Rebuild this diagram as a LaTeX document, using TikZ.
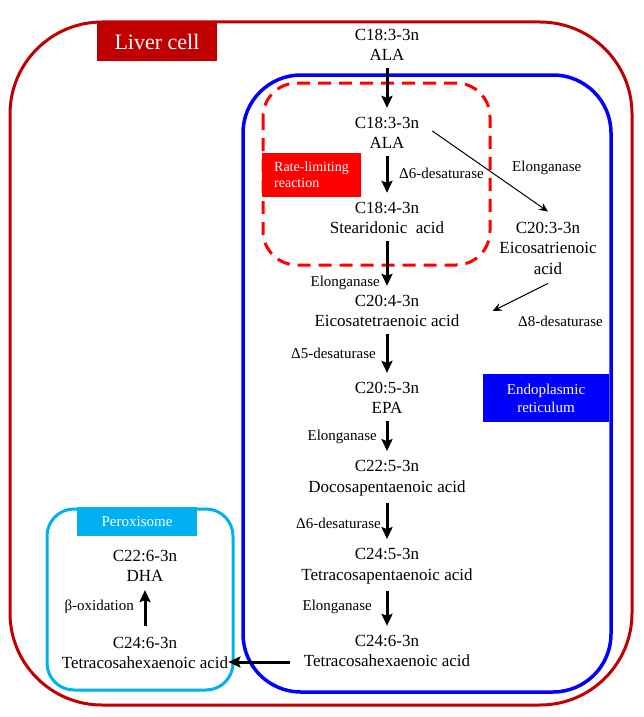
\documentclass[tikz,border=0pt]{standalone}
\usepackage{fontspec}
\setmainfont{Liberation Serif}
\usetikzlibrary{arrows.meta,calc}
\definecolor{liverred}{RGB}{192,0,0}
\definecolor{erblue}{RGB}{0,0,255}
\definecolor{ratered}{RGB}{255,0,0}
\definecolor{peroxblue}{RGB}{0,176,240}
\begin{document}
\begin{tikzpicture}[x=1pt,y=-1pt,
  cmp/.style={align=center, inner sep=0pt, font=\fontsize{17}{20.5}\selectfont},
  lbl/.style={inner sep=0pt, font=\fontsize{15}{18}\selectfont},
  tagbox/.style={inner sep=0pt, text=white},
  bigarrow/.style={line width=3pt, -{Stealth[length=12pt,width=11pt,inset=2pt]}, shorten <=7pt, shorten >=9pt},
  thinarrow/.style={line width=1pt, -{Stealth[length=9pt,width=8pt]}},
]
\useasboundingbox (0,0) rectangle (644,717);
% frames
\draw[liverred, line width=3pt, rounded corners=92pt] (10,22) rectangle (632,705);
\draw[erblue, line width=3.5pt, rounded corners=58pt] (243,75) rectangle (611,692);
\draw[ratered, line width=3pt, dash pattern=on 13pt off 8pt, rounded corners=34pt] (263,83) rectangle (490,265);
\draw[peroxblue, line width=3pt, rounded corners=27pt] (47,509) rectangle (233,690);
% tags
\node[tagbox, fill=liverred, minimum width=120pt, minimum height=38pt, font=\fontsize{22}{26}\selectfont] (livercell) at (157,42) {Liver cell};
\node[tagbox, fill=erblue, minimum width=126pt, minimum height=48pt, align=center, font=\fontsize{15}{18}\selectfont] (er) at (546,398) {Endoplasmic\\reticulum};
\node[tagbox, fill=peroxblue, minimum width=120pt, minimum height=29pt, font=\fontsize{15}{18}\selectfont] (perox) at (137,521.5) {Peroxisome};
\node[tagbox, fill=ratered, minimum width=99pt, minimum height=44pt, align=left, font=\fontsize{14}{16}\selectfont] (rate) at (311.5,175) {Rate-limiting\\reaction};
% compounds
\node[cmp] (ala0) at (387,45) {C18:3-3n\\ALA};
\node[cmp] (ala) at (387,133) {C18:3-3n\\ALA};
\node[cmp] (sda) at (387,218) {C18:4-3n\\Stearidonic\ \ acid};
\node[cmp] (c203) at (548,248) {C20:3-3n\\Eicosatrienoic\\acid};
\node[cmp] (eta) at (387,311) {C20:4-3n\\Eicosatetraenoic acid};
\node[cmp] (epa) at (387,398) {C20:5-3n\\EPA};
\node[cmp] (dpa) at (387,478) {C22:5-3n\\Docosapentaenoic acid};
\node[cmp] (tpa) at (387,566) {C24:5-3n\\Tetracosapentaenoic acid};
\node[cmp] (tha) at (387,651) {C24:6-3n\\Tetracosahexaenoic acid};
\node[cmp] (dha) at (145,566) {C22:6-3n\\DHA};
\node[cmp] (thap) at (145,653) {C24:6-3n\\Tetracosahexaenoic acid};
% enzyme labels
\node[lbl, anchor=west] (d6a) at (399,173) {Δ6-desaturase};
\node[lbl, anchor=west] (elod) at (512,168) {Elonganase};
\node[lbl, anchor=east] (elob) at (380,283) {Elonganase};
\node[lbl, anchor=west] (d8) at (518,321) {Δ8-desaturase};
\node[lbl, anchor=east] (d5) at (376,353) {Δ5-desaturase};
\node[lbl, anchor=east] (eloc) at (377,437) {Elonganase};
\node[lbl, anchor=east] (d6b) at (381,523) {Δ6-desaturase};
\node[lbl, anchor=east] (elod2) at (372,607) {Elonganase};
\node[lbl, anchor=east] (box) at (134,607) {β-oxidation};
% connectors
\draw[bigarrow] (ala0) -- (ala);
\draw[bigarrow] (ala) -- (sda);
\draw[bigarrow] (sda) -- (eta);
\draw[bigarrow] (eta) -- (epa);
\draw[bigarrow] (epa) -- (dpa);
\draw[bigarrow] (dpa) -- (tpa);
\draw[bigarrow] (tpa) -- (tha);
\draw[bigarrow, shorten <=11pt, shorten >=8pt] (thap) -- (dha);
\draw[bigarrow, shorten <=14pt, shorten >=0pt] ([yshift=-11pt]tha.west) -- ([yshift=-9pt]thap.east);
\draw[thinarrow] ([shift={(13pt,2pt)}]ala.east) -- ([yshift=10pt]c203.north);
\draw[thinarrow] ([yshift=-9pt]c203.south) -- ([xshift=33pt]eta.east);
\end{tikzpicture}
\end{document}
